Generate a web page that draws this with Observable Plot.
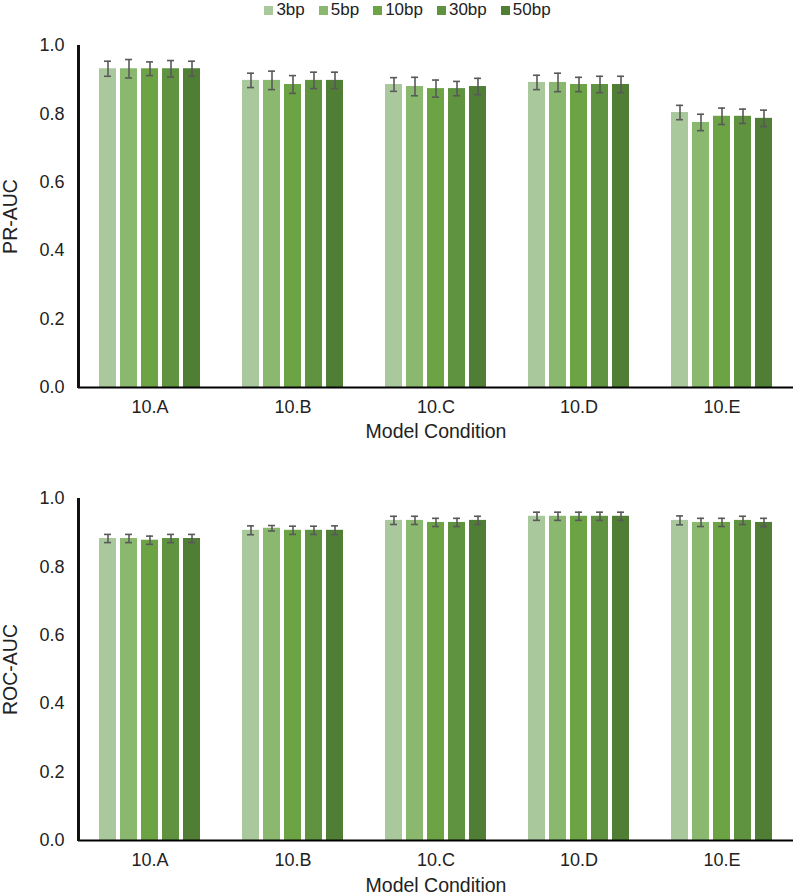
<!DOCTYPE html>
<html>
<head>
<meta charset="utf-8">
<script src="https://cdn.jsdelivr.net/npm/d3@7"></script>
<script src="https://cdn.jsdelivr.net/npm/@observablehq/plot@0.6"></script>
<style>
  body { margin: 0; background: #fff; font-family: "Liberation Sans", Arial, sans-serif; }
  #legend { height: 20px; display: flex; justify-content: center; align-items: center; gap: 14px; font-size: 17px; color: #222; padding-left: 18px; }
  #legend span.sw { display: inline-block; width: 9px; height: 9px; margin-right: 3px; }
  svg { display: block; }
</style>
</head>
<body>
<div id="legend"></div>
<div id="charts"></div>
<script>
const groups = ["10.A", "10.B", "10.C", "10.D", "10.E"];
const sizes = ["3bp", "5bp", "10bp", "30bp", "50bp"];
const colors = ["#a9c99c", "#8ab86f", "#6ca445", "#5f9340", "#507e35"];
const yTicks = [0, 0.2, 0.4, 0.6, 0.8, 1.0];

// PR-AUC, one row per model condition (3bp..50bp)
const prAuc = [
  [0.932, 0.932, 0.932, 0.932, 0.932],
  [0.898, 0.898, 0.886, 0.898, 0.898],
  [0.886, 0.880, 0.874, 0.874, 0.880],
  [0.892, 0.892, 0.886, 0.886, 0.886],
  [0.804, 0.775, 0.793, 0.793, 0.787]
];
const prErr = [
  [0.022, 0.027, 0.020, 0.024, 0.022],
  [0.021, 0.027, 0.026, 0.024, 0.024],
  [0.020, 0.027, 0.025, 0.021, 0.024],
  [0.021, 0.027, 0.021, 0.024, 0.024],
  [0.021, 0.024, 0.024, 0.021, 0.024]
];

// ROC-AUC
const rocAuc = [
  [0.883, 0.883, 0.878, 0.883, 0.883],
  [0.907, 0.913, 0.907, 0.907, 0.907],
  [0.936, 0.936, 0.930, 0.930, 0.936],
  [0.948, 0.948, 0.948, 0.948, 0.948],
  [0.936, 0.930, 0.930, 0.936, 0.930]
];
const rocErr = [
  [0.012, 0.012, 0.012, 0.012, 0.012],
  [0.013, 0.008, 0.012, 0.012, 0.013],
  [0.012, 0.012, 0.012, 0.012, 0.012],
  [0.012, 0.012, 0.012, 0.012, 0.012],
  [0.013, 0.012, 0.012, 0.012, 0.012]
];

function rows(vals, errs) {
  return groups.flatMap((g, i) => sizes.map((s, j) => ({
    group: g, size: s, value: vals[i][j], lo: vals[i][j] - errs[i][j], hi: vals[i][j] + errs[i][j]
  })));
}

const marginLeft = 78;

function chart(data, yLabel, opts) {
  const svg = Plot.plot({
    width: 797,
    height: opts.height,
    marginTop: opts.marginTop,
    marginBottom: opts.marginBottom,
    marginLeft,
    marginRight: 4,
    style: {fontFamily: "Liberation Sans, Arial, sans-serif", fontSize: "18px", color: "#222"},
    fx: {domain: groups, padding: 0},
    x: {domain: sizes, paddingInner: 0.18, paddingOuter: 0.87, axis: null},
    y: {domain: [0, 1]},
    color: {domain: sizes, range: colors},
    marks: [
      Plot.barY(data, {fx: "group", x: "size", y: "value", fill: "size"}),
      Plot.ruleX(data, {fx: "group", x: "size", y1: "lo", y2: "hi", stroke: "#595959", strokeWidth: 1.6}),
      Plot.tickY(data, {fx: "group", x: "size", y: "lo", stroke: "#595959", strokeWidth: 1.6, insetLeft: 5, insetRight: 5}),
      Plot.tickY(data, {fx: "group", x: "size", y: "hi", stroke: "#595959", strokeWidth: 1.6, insetLeft: 5, insetRight: 5}),
      Plot.ruleY([0], {stroke: "#000", strokeWidth: 2}),
      Plot.axisY({anchor: "left", ticks: yTicks, tickFormat: d3.format(".1f"), tickSize: 0, tickPadding: 14, fontSize: 18}),
      Plot.axisY({anchor: "left", ticks: [], label: yLabel, labelArrow: "none", labelAnchor: "center",
                  labelOffset: 75, fontSize: 19.5}),
      Plot.axisFx({anchor: "bottom", tickSize: 0, tickPadding: 13, label: null, fontSize: 18}),
      Plot.axisFx({anchor: "bottom", ticks: [], label: "Model Condition", labelArrow: "none",
                   labelAnchor: "center", labelOffset: opts.labelOffset, fontSize: 19.5})
    ]
  });
  // vertical axis line from y = 0 to y = 1, at the left edge of the plot area
  const y = svg.scale("y");
  d3.select(svg).append("line")
    .attr("x1", marginLeft).attr("x2", marginLeft)
    .attr("y1", y.apply(0) + 1).attr("y2", y.apply(1))
    .attr("stroke", "#111").attr("stroke-width", 3)
    .attr("shape-rendering", "crispEdges");
  return svg;
}

const legend = document.getElementById("legend");
sizes.forEach((s, i) => {
  const item = document.createElement("span");
  item.innerHTML = `<span class="sw" style="background:${colors[i]}"></span>${s}`;
  legend.appendChild(item);
});

const wrap = document.getElementById("charts");
wrap.appendChild(chart(rows(prAuc, prErr), "PR-AUC", {height: 448, marginTop: 25, marginBottom: 81, labelOffset: 50}));
wrap.appendChild(chart(rows(rocAuc, rocErr), "ROC-AUC", {height: 428, marginTop: 30, marginBottom: 56, labelOffset: 51}));
</script>
</body>
</html>
